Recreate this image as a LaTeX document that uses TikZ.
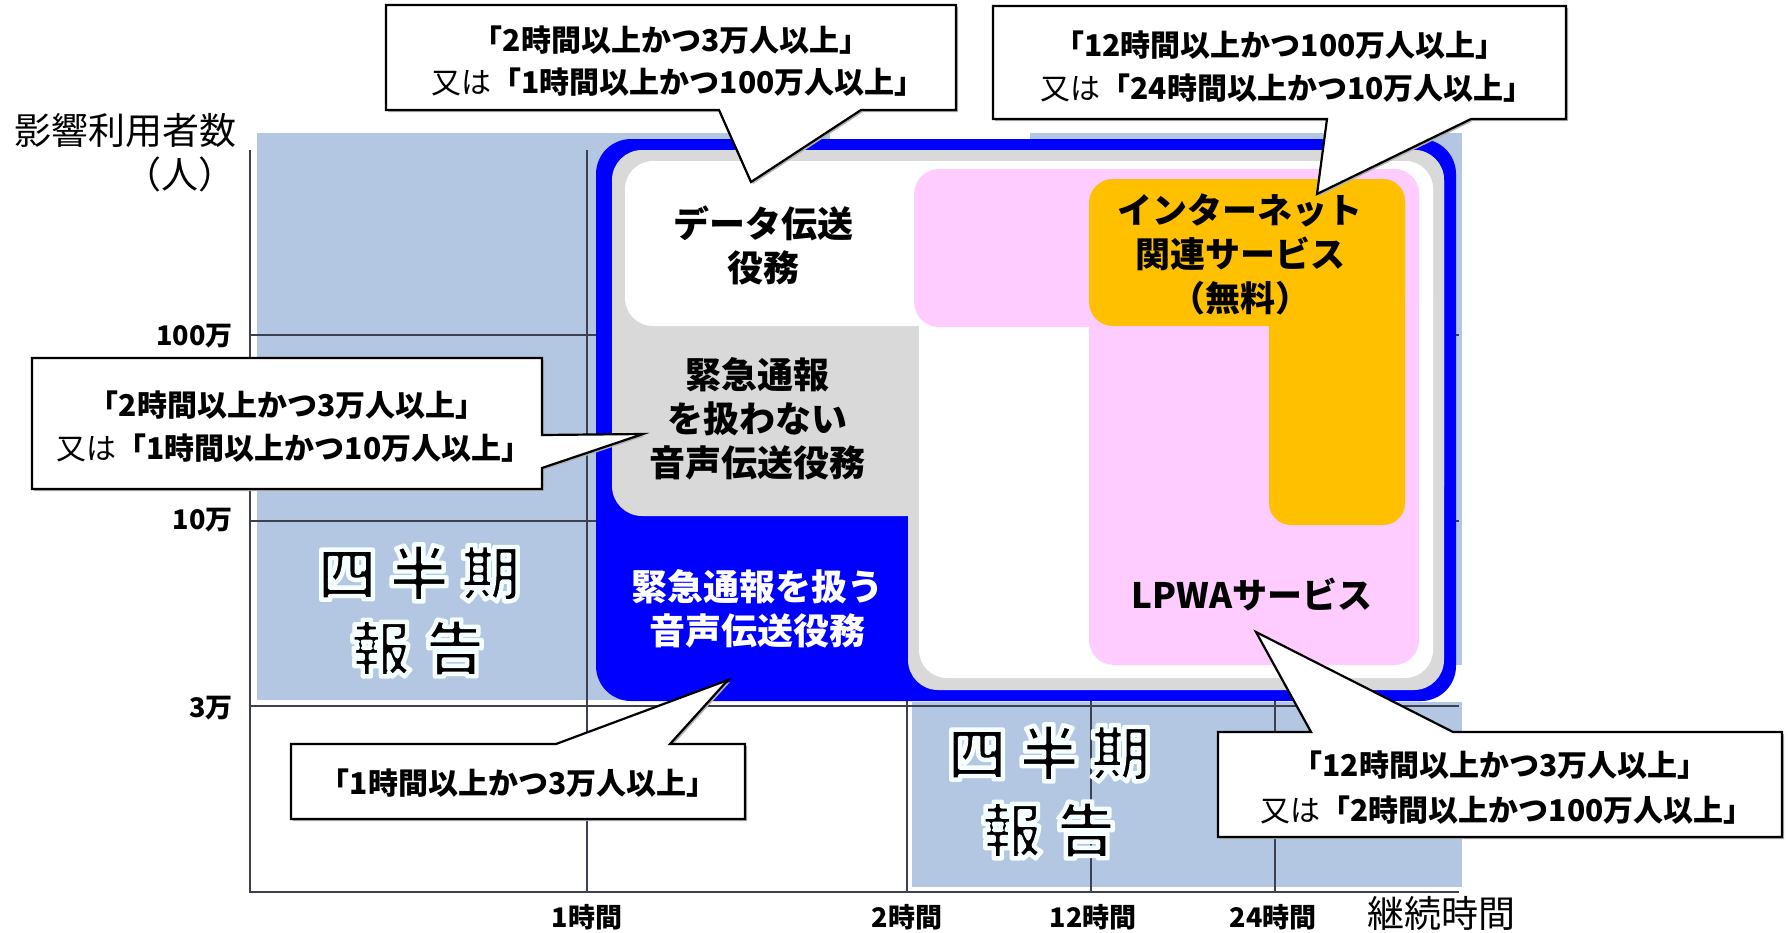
\documentclass[tikz,border=0pt]{standalone}
\usepackage{fontspec}
\newfontfamily\jp{Noto Sans CJK JP}
\definecolor{qblue}{RGB}{180,199,226}
\definecolor{boxgray}{RGB}{217,217,217}
\definecolor{lpwac}{RGB}{255,204,255}
\definecolor{inetc}{RGB}{255,192,0}
\definecolor{gridc}{RGB}{60,64,80}
\definecolor{pureblue}{RGB}{0,0,255}
\newcommand{\halotxt}[1]{\special{pdf:literal direct 2 Tr 4.4 w 1 j 0.96 1 1 RG}#1\special{pdf:literal direct 0 Tr 0 0 0 RG}}
\newcommand{\qlineA}{四\hspace{12pt}半\hspace{12pt}期}
\newcommand{\qlineB}{報\hspace{14pt}告}
\tikzset{
  gridln/.style={draw=gridc, line width=1.6pt},
  axisln/.style={draw=gridc, line width=2pt},
  callout/.style={draw=black, fill=white, line width=2.2pt, line join=miter},
  cshadow/.style={fill=black!30},
  boxlabel/.style={font=\jp\bfseries\fontsize{36}{44}\selectfont, align=center, inner sep=0pt},
  calltext/.style={font=\jp\bfseries\fontsize{30}{34}\selectfont, inner sep=0pt},
  ticklabel/.style={font=\jp\bfseries\fontsize{27}{30}\selectfont, inner sep=0pt},
  axislabel/.style={font=\jp\fontsize{37}{42}\selectfont, inner sep=0pt},
  quarter/.style={font=\jp\bfseries\fontsize{60}{66}\selectfont, inner sep=0pt},
}
\begin{document}
\begin{tikzpicture}[x=1pt,y=-1pt]
\useasboundingbox (0,0) rectangle (1788,932);
\fill[white] (0,0) rectangle (1788,932);

% quarterly report areas
\fill[qblue] (257,133) rectangle (830,700);
\fill[qblue] (1030,133) rectangle (1462,665);
\fill[qblue] (912,702) rectangle (1462,887);

% grid lines
\draw[gridln] (250,335) -- (1459,335);
\draw[gridln] (250,521) -- (1459,521);
\draw[gridln] (250,706) -- (1459,706);
\draw[gridln] (587,150) -- (587,892);
\draw[gridln] (907,150) -- (907,892);
\draw[gridln] (1091,150) -- (1091,892);
\draw[gridln] (1275,150) -- (1275,892);
% axes
\draw[axisln] (250,150) -- (250,892) -- (1459,892);

% main blue box
\fill[pureblue, rounded corners=35pt] (596,139) rectangle (1456,701);
% gray layer
\fill[boxgray, rounded corners=30pt] (612,150) rectangle (1444,516);
\fill[boxgray, rounded corners=30pt] (908,150) rectangle (1444,690);
% white layer
\fill[white, rounded corners=28pt] (625,161) rectangle (1433,326);
\fill[white, rounded corners=28pt] (919,161) rectangle (1433,678);
% LPWA (pink)
\fill[lpwac, rounded corners=25pt] (914,169) rectangle (1419,327);
\fill[lpwac, rounded corners=25pt] (1089,169) rectangle (1419,665);
% internet (orange)
\fill[inetc, rounded corners=24pt] (1089,179) rectangle (1405,326);
\fill[inetc, rounded corners=22pt] (1269,179) rectangle (1405,525);

% box labels
\node[boxlabel] (data) at (763,245) {データ伝送\\役務};
\node[boxlabel] (novoice) at (757,419) {緊急通報\\を扱わない\\音声伝送役務};
\node[boxlabel, text=white] (voice) at (757,609) {緊急通報を扱う\\音声伝送役務};
\node[boxlabel, font=\jp\bfseries\fontsize{35}{44}\selectfont] (inet) at (1240,254) {インターネット\\関連サービス\\（無料）};
\node[boxlabel, font=\jp\bfseries\fontsize{35}{44}\selectfont] (lpwa) at (1252,594) {LPWAサービス};

% quarterly report labels
\node[quarter] (q1a) at (419,573) {\halotxt{\qlineA}};
\node[quarter] (q1b) at (418,648) {\halotxt{\qlineB}};
\node[quarter] (q2a) at (1049,753) {\halotxt{\qlineA}};
\node[quarter] (q2b) at (1049,830) {\halotxt{\qlineB}};

% callout 1 (top centre)
\fill[cshadow] (388,7) -- (958,7) -- (958,112) -- (863,112) -- (753,184) -- (721,112) -- (388,112) -- cycle;
\draw[callout] (386,5) -- (956,5) -- (956,110) -- (861,110) -- (751,182) -- (719,110) -- (386,110) -- cycle;
\node[calltext] (c1a) at (671,40) {「2時間以上かつ3万人以上」};
\node[calltext] (c1b) at (678,82) {{\mdseries 又は}「1時間以上かつ100万人以上」};

% callout 2 (top right)
\fill[cshadow] (995,8) -- (1568,8) -- (1568,121) -- (1473,121) -- (1319,196) -- (1329,121) -- (995,121) -- cycle;
\draw[callout] (993,6) -- (1566,6) -- (1566,119) -- (1471,119) -- (1317,194) -- (1327,119) -- (993,119) -- cycle;
\node[calltext] (c2a) at (1280,45) {「12時間以上かつ100万人以上」};
\node[calltext] (c2b) at (1287,88) {{\mdseries 又は}「24時間以上かつ10万人以上」};

% callout 3 (left middle)
\fill[cshadow] (34,360) -- (544,360) -- (544,437) -- (645,436) -- (544,470) -- (544,491) -- (34,491) -- cycle;
\draw[callout] (32,358) -- (542,358) -- (542,435) -- (643,434) -- (542,468) -- (542,489) -- (32,489) -- cycle;
\node[calltext] (c3a) at (287,405) {「2時間以上かつ3万人以上」};
\node[calltext] (c3b) at (294,448) {{\mdseries 又は}「1時間以上かつ10万人以上」};

% callout 4 (bottom left)
\fill[cshadow] (293,746) -- (558,746) -- (730,682) -- (672,746) -- (747,746) -- (747,821) -- (293,821) -- cycle;
\draw[callout] (291,744) -- (556,744) -- (728,680) -- (670,744) -- (745,744) -- (745,819) -- (291,819) -- cycle;
\node[calltext] (c4a) at (518,783) {「1時間以上かつ3万人以上」};

% callout 5 (bottom right)
\fill[cshadow] (1220,734) -- (1313,734) -- (1258,634) -- (1455,734) -- (1784,734) -- (1784,839) -- (1220,839) -- cycle;
\draw[callout] (1218,732) -- (1311,732) -- (1256,632) -- (1453,732) -- (1782,732) -- (1782,837) -- (1218,837) -- cycle;
\node[calltext] (c5a) at (1500,765) {「12時間以上かつ3万人以上」};
\node[calltext] (c5b) at (1507,810) {{\mdseries 又は}「2時間以上かつ100万人以上」};

% axis tick labels
\node[ticklabel, anchor=east] (t100) at (233,336) {100万};
\node[ticklabel, anchor=east] (t10) at (233,520) {10万};
\node[ticklabel, anchor=east] (t3) at (233,708) {3万};
\node[ticklabel] (x1) at (587,917) {1時間};
\node[ticklabel] (x2) at (907,917) {2時間};
\node[ticklabel] (x12) at (1093,917) {12時間};
\node[ticklabel] (x24) at (1273,917) {24時間};

% axis titles
\node[axislabel, anchor=east] (ylab) at (237,131) {影響利用者数};
\node[axislabel] (ylab2) at (180,174) {（人）};
\node[axislabel] (xlab) at (1441,913) {継続時間};
\end{tikzpicture}
\end{document}
